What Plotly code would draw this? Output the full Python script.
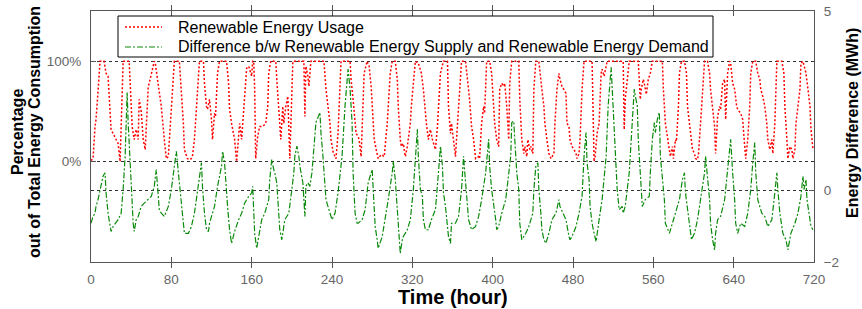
import plotly.graph_objects as go

# ---- data ----
red_hours = [0,2,4,5,7,9,13,15,17,19,20,22,25,27,29,32,38,40,41,43,45,47,48,50,52,54,56,57,58,60,62,63,64,66,68,70,73,75,77,80,83,88,90,92,93,96,99,101,103,105,108,112,113,115,116,118,120,121,123,124,126,128,135,137,138,140,143,145,148,150,152,155,157,159,160,161,162,163,164,166,168,171,174,176,177,179,184,185,187,189,191,192,194,196,198,199,201,212,213,214,216,217,219,232,234,236,238,239,241,243,244,246,249,258,259,261,263,264,266,267,269,270,272,275,277,279,281,282,284,286,289,292,295,298,300,303,305,306,308,309,311,313,315,316,318,319,323,326,329,331,333,334,336,338,340,343,345,348,351,355,356,358,359,361,363,364,367,369,373,376,377,379,381,383,386,387,389,391,392,394,397,399,401,402,404,406,407,409,411,412,414,416,417,419,426,427,429,431,432,434,435,437,438,440,441,443,446,448,449,451,452,454,456,458,459,461,462,464,466,467,469,471,473,474,476,477,479,481,483,484,486,487,489,491,499,500,501,502,504,506,508,509,511,514,530,531,532,536,545,547,548,550,551,553,555,557,559,569,570,572,574,575,577,579,580,582,583,585,586,588,591,593,594,596,598,599,601,602,604,605,607,609,611,614,616,617,619,621,622,623,624,626,627,629,631,632,634,636,637,639,641,643,644,647,649,650,652,654,656,657,659,662,664,666,667,669,671,673,674,676,678,679,681,683,688,690,691,693,694,696,698,699,701,702,704,706,707,709,711,712,714,716,717,719]
red_usage_pct = [1,3,35,42,70,100,100,88,85,42,32,28,22,18,0,100,100,55,35,22,32,22,62,50,22,12,55,75,78,88,95,100,98,82,72,55,22,3,5,55,100,100,72,38,12,3,2,5,22,55,100,100,78,55,52,62,42,22,48,45,88,100,100,78,52,38,22,0,38,22,55,93,95,88,85,100,100,72,3,25,35,35,38,55,88,100,100,82,55,22,55,38,55,65,3,38,100,100,45,95,85,75,100,100,72,55,38,22,10,5,3,28,100,100,82,62,42,28,25,22,5,35,88,100,95,75,38,22,12,3,7,5,38,88,100,100,82,55,22,15,18,5,15,22,38,55,100,98,88,72,45,38,22,32,22,12,35,88,100,100,55,28,38,22,5,22,72,100,100,72,62,35,22,3,5,3,38,55,48,100,100,88,55,38,22,15,72,78,75,78,55,22,78,100,100,62,22,8,15,5,22,12,15,8,72,100,100,78,72,55,38,22,8,3,5,8,38,72,88,82,75,72,68,38,35,22,15,12,8,3,8,22,72,100,100,50,0,5,28,38,88,92,85,100,100,32,62,100,100,62,72,82,78,67,82,88,100,100,72,38,22,18,5,15,3,22,20,55,88,100,100,88,55,38,22,12,8,3,2,8,38,72,100,100,88,72,55,35,8,28,45,55,52,78,82,42,88,100,98,78,72,55,52,48,42,28,3,22,55,88,100,100,88,82,72,65,55,38,22,12,22,8,38,100,100,88,55,22,3,15,12,3,12,38,55,72,98,100,92,88,72,55,32,12]

green_hours = [0,2,4,5,7,9,10,12,14,15,17,19,20,22,24,27,30,32,34,35,36,37,39,40,42,43,45,47,50,53,57,60,63,65,67,68,70,73,77,80,83,85,87,90,93,97,100,103,107,110,111,113,115,117,118,120,123,126,130,131,133,136,138,140,143,147,150,153,157,160,161,163,165,167,170,173,177,178,180,182,183,185,187,188,190,192,193,197,198,200,202,203,205,207,208,210,211,213,214,216,218,220,223,224,228,229,231,233,234,238,240,243,246,250,253,256,258,260,261,263,265,266,270,273,276,280,281,283,285,286,290,293,296,300,301,303,305,306,308,310,311,315,318,321,323,325,326,328,330,331,333,336,339,343,346,348,350,351,353,356,358,359,363,366,369,371,372,374,376,379,383,386,389,393,396,397,399,403,404,406,409,413,416,418,419,421,422,424,426,427,429,433,436,440,441,443,445,446,448,449,451,453,456,459,463,466,467,470,473,476,477,479,483,486,489,491,493,494,496,497,499,501,503,506,509,513,515,518,519,521,524,526,529,530,532,536,539,541,542,544,545,547,549,552,556,557,559,561,562,564,566,567,569,571,572,576,579,583,586,589,591,592,596,598,601,604,607,611,612,614,616,617,619,621,622,624,627,631,634,636,637,639,641,642,644,647,651,654,657,659,661,662,664,668,671,674,678,681,683,684,686,689,692,694,697,701,704,707,709,710,712,713,715,717,719]
green_diff_mwh = [-0.92,-0.73,-0.64,-0.45,-0.26,0.02,0.21,0.39,0.49,-0.07,-0.64,-1.01,-1.15,-1.01,-0.92,-0.82,-0.64,0.02,0.95,1.89,2.73,1.89,0.77,-0.17,-0.92,-1.15,-0.82,-0.73,-0.45,-0.36,-0.26,-0.17,0.11,0.58,-0.17,-0.54,-0.64,-0.73,-0.45,0.02,0.67,1.09,0.49,-0.45,-1.20,-1.20,-1.01,-0.64,0.11,0.77,0.11,-0.64,-1.10,-1.15,-0.92,-0.73,-0.45,0.11,0.67,1.09,0.77,-0.45,-1.10,-1.48,-1.15,-0.82,-0.64,-0.36,-0.17,-0.07,0.11,-1.20,-1.62,-1.29,-0.82,-0.64,-0.26,0.30,0.86,0.58,0.49,0.21,-0.54,-1.10,-1.38,-0.92,-0.82,-0.64,-0.45,0.02,0.49,0.95,1.23,0.95,0.67,0.30,0.21,-0.73,0.11,0.21,0.11,0.49,1.42,1.89,2.17,1.61,0.95,0.30,-0.26,-0.64,-0.82,-0.64,-0.07,0.95,2.36,3.38,2.82,1.89,0.49,-0.64,-0.92,-0.92,-0.82,-0.54,0.21,0.58,-0.07,-1.01,-1.38,-1.62,-1.29,-0.82,-0.26,0.49,0.81,0.30,-0.45,-1.01,-1.76,-1.38,-1.29,-1.10,-0.82,0.02,0.95,1.70,0.95,0.02,-0.17,-0.82,-1.10,-1.10,-0.82,-0.54,0.49,1.23,0.67,-0.07,-0.45,-1.29,-1.48,-0.92,-0.92,-0.73,0.02,0.95,0.58,-0.26,-0.82,-1.10,-1.01,-0.73,-0.26,0.49,1.42,0.67,0.02,-0.82,-1.10,-1.01,-0.64,-0.26,0.39,0.95,1.89,1.93,1.42,0.49,0.02,-0.92,-1.38,-1.20,-1.01,-0.64,0.02,0.67,0.77,0.02,-0.64,-1.10,-1.38,-1.48,-1.20,-0.82,-0.64,-0.26,-0.45,-0.64,-0.82,-1.29,-1.38,-1.29,-1.01,-0.64,-0.17,0.95,1.61,0.77,0.30,-0.45,-0.92,-1.20,-1.43,-0.82,-0.26,0.95,2.36,3.43,2.82,1.42,0.02,-0.54,-0.45,-0.64,-0.45,0.49,1.89,2.82,2.64,2.36,1.42,0.49,-0.45,-0.26,-0.17,0.49,1.42,1.89,1.61,1.98,2.17,0.95,0.30,-0.26,-0.92,-1.20,-0.92,-0.54,-0.26,0.30,0.49,-0.07,-1.01,-1.38,-1.20,-0.82,-0.26,0.49,0.95,0.30,-0.26,-0.92,-1.38,-1.66,-1.20,-0.82,-0.73,-0.26,0.49,1.14,1.42,0.49,-0.26,-0.92,-1.20,-0.92,-1.01,-0.64,0.02,0.77,1.33,0.49,-0.26,-0.64,-0.73,-1.01,-0.82,-0.07,0.49,0.02,-0.64,-1.20,-1.38,-1.66,-1.20,-0.92,-0.64,-0.17,0.39,0.02,0.30,-0.26,-0.64,-1.01,-1.10]

x_ticks = [0, 80, 160, 240, 320, 400, 480, 560, 640, 720]
left_ticks = [0, 100]
left_tick_labels = ["0%", "100%"]
right_ticks = [-2, 0, 5]
series_names = ["Renewable Energy Usage",
                "Difference b/w Renewable Energy Supply and Renewable Energy Demand"]

FONT = "Liberation Sans, Arial, Helvetica, sans-serif"
FRAME = "#555555"
TICKC = "#666666"
RED_LINE = dict(color="#ff0000", width=1.5, dash="2px,2px")
GREEN_LINE = dict(color="#0a8a0a", width=1.2, dash="6px,2px,2px,2px")

# plot-area geometry (pixels) used to place the legend box
L, R, T, B = 91, 814, 11, 262
def px_x(p):
    return (p - L) / (R - L)
def px_y(p):
    return (B - p) / (B - T)

fig = go.Figure()
fig.add_trace(go.Scatter(x=red_hours, y=red_usage_pct, mode="lines", name=series_names[0],
                         line=RED_LINE, yaxis="y", showlegend=False))
fig.add_trace(go.Scatter(x=green_hours, y=green_diff_mwh, mode="lines", name=series_names[1],
                         line=GREEN_LINE, yaxis="y2", showlegend=False))

shapes = [
    dict(type="rect", xref="paper", yref="paper", x0=px_x(118), x1=px_x(713),
         y0=px_y(57), y1=px_y(16), line=dict(color="black", width=1),
         fillcolor="white", layer="above"),
    dict(type="line", xref="paper", yref="paper", x0=px_x(125), x1=px_x(162),
         y0=px_y(27), y1=px_y(27), line=RED_LINE, layer="above"),
    dict(type="line", xref="paper", yref="paper", x0=px_x(125), x1=px_x(162),
         y0=px_y(47), y1=px_y(47), line=GREEN_LINE, layer="above"),
]

annotations = [
    dict(text=series_names[0], xref="paper", yref="paper", x=px_x(176), y=px_y(27),
         xanchor="left", yanchor="middle", showarrow=False,
         font=dict(family=FONT, size=16, color="black")),
    dict(text=series_names[1], xref="paper", yref="paper", x=px_x(176), y=px_y(47),
         xanchor="left", yanchor="middle", showarrow=False,
         font=dict(family=FONT, size=16, color="black")),
    dict(text="<b>Time (hour)</b>", xref="paper", yref="paper", x=0.5, y=px_y(297),
         xanchor="center", yanchor="middle", showarrow=False,
         font=dict(family=FONT, size=20, color="black")),
    dict(text="<b>Percentage</b>", xref="paper", yref="paper", x=px_x(18), y=0.518,
         textangle=-90, xanchor="center", yanchor="middle", showarrow=False,
         font=dict(family=FONT, size=16, color="black")),
    dict(text="<b>out of Total Energy Consumption</b>", xref="paper", yref="paper",
         x=px_x(35), y=0.518, textangle=-90, xanchor="center", yanchor="middle",
         showarrow=False, font=dict(family=FONT, size=16, color="black")),
    dict(text="<b>Energy Difference (MWh)</b>", xref="paper", yref="paper",
         x=px_x(853), y=0.554, textangle=-90, xanchor="center", yanchor="middle",
         showarrow=False, font=dict(family=FONT, size=16, color="black")),
]

fig.update_layout(
    width=862, height=309,
    margin=dict(l=L, r=862 - R, t=T, b=309 - B, autoexpand=False),
    paper_bgcolor="white", plot_bgcolor="white",
    font=dict(family=FONT, size=14, color="black"),
    showlegend=False,
    xaxis=dict(range=[0, 720], tickvals=x_ticks, ticks="inside", ticklen=5,
               tickcolor=FRAME, showline=True, linecolor=FRAME, linewidth=1,
               mirror="allticks", showgrid=False, zeroline=False, automargin=False,
               ticklabelstandoff=5,
               tickfont=dict(family=FONT, size=13.5, color=TICKC)),
    yaxis=dict(range=[-100, 150], tickvals=left_ticks, ticktext=left_tick_labels,
               ticks="inside", ticklen=5, tickcolor=FRAME, showline=True,
               linecolor=FRAME, linewidth=1, showgrid=True, gridcolor="#333333",
               griddash="dot", gridwidth=1, zeroline=False, automargin=False,
               ticklabelstandoff=6,
               tickfont=dict(family=FONT, size=13.5, color=TICKC)),
    yaxis2=dict(range=[-2, 5], tickvals=right_ticks, overlaying="y", side="right",
                ticks="inside", ticklen=5, tickcolor=FRAME, showline=True,
                linecolor=FRAME, linewidth=1, showgrid=True, gridcolor="#333333",
                griddash="dot", gridwidth=1, zeroline=False, automargin=False,
                ticklabelstandoff=6,
                tickfont=dict(family=FONT, size=13.5, color=TICKC)),
    shapes=shapes,
    annotations=annotations,
)

fig.write_html("out.html", config={"displayModeBar": False},
               post_script="document.body.style.margin='0';document.body.style.overflow='hidden';")
